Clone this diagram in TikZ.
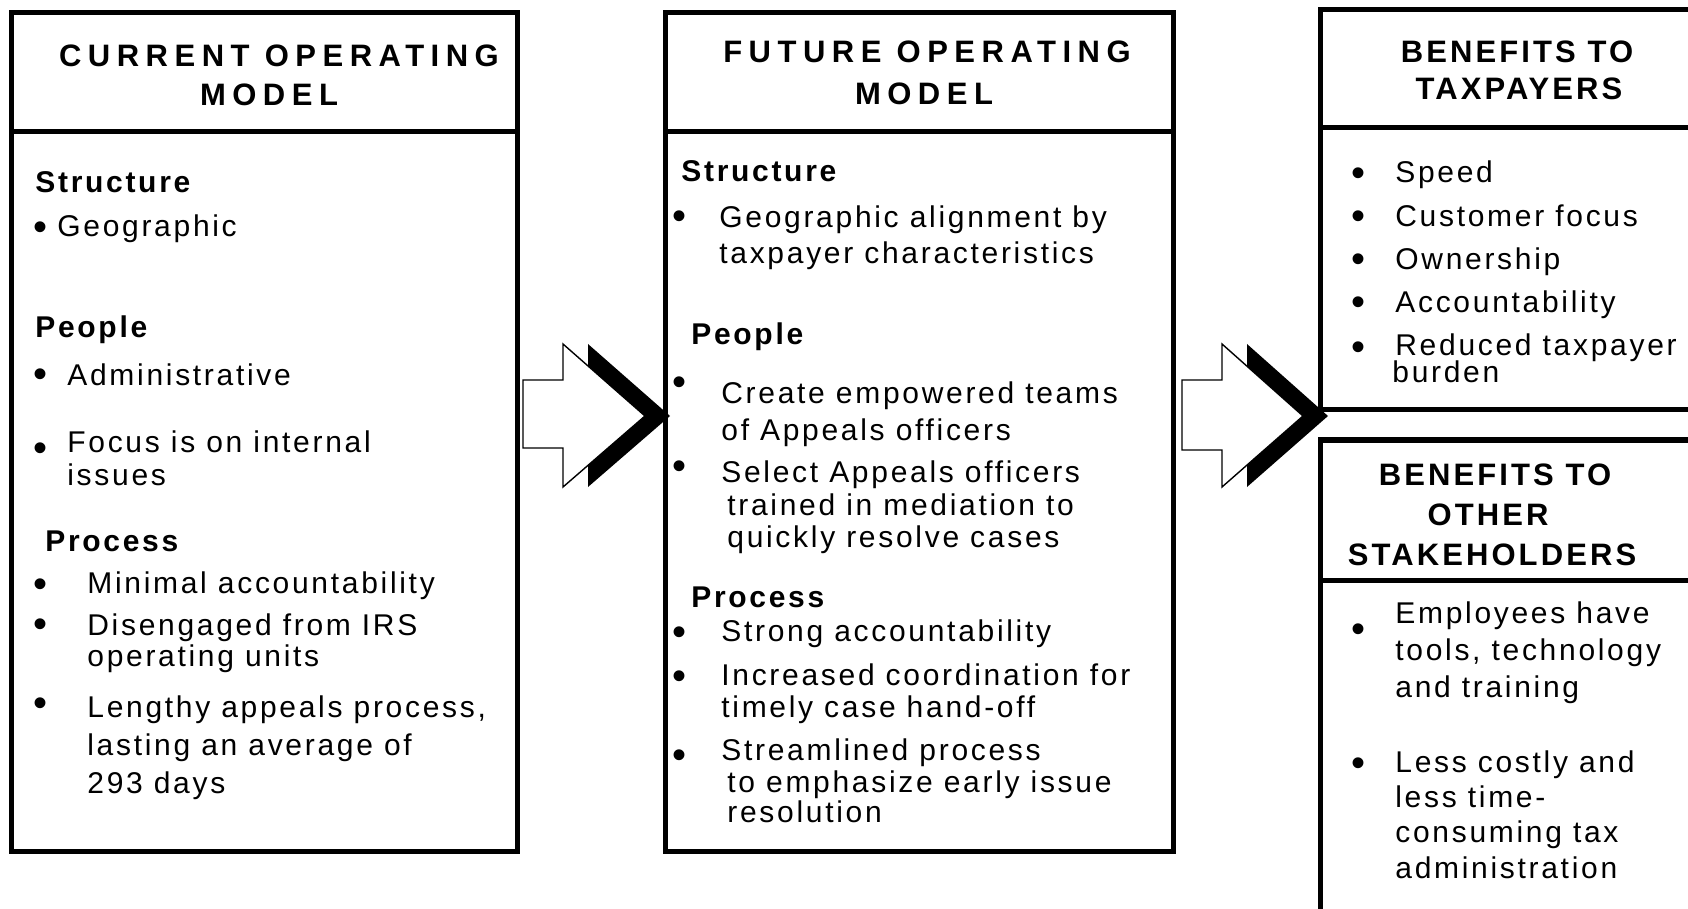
\documentclass[tikz,border=0pt]{standalone}
\usepackage{fontspec}
\setmainfont{Liberation Sans}[LetterSpace=9]
\newfontfamily\hdrfont{Liberation Sans}[LetterSpace=21]
\newfontfamily\hdrfontr{Liberation Sans}[LetterSpace=10]

\begin{document}
\begin{tikzpicture}[x=0.5pt,y=-0.5pt,
  boxline/.style={line width=2.5pt},
  hdr/.style={anchor=base,inner sep=0pt,font=\hdrfont\bfseries\fontsize{15.5}{18}\selectfont},
  hdrr/.style={anchor=base,inner sep=0pt,font=\hdrfontr\bfseries\fontsize{15.5}{18}\selectfont},
  sec/.style={anchor=base west,inner sep=0pt,font=\bfseries\fontsize{15}{17}\selectfont},
  txt/.style={anchor=base west,inner sep=0pt,font=\fontsize{15}{17}\selectfont},
  bul/.style={anchor=base west,inner sep=0pt,font=\fontsize{20}{20}\selectfont},
  blockarrow/.style={draw,fill=white,line width=0.7pt,line join=miter}]
\useasboundingbox (0,0) rectangle (1688,909);
\clip (0,0) rectangle (1688,909);
% block arrows with black shadow
\fill (588,344) -- (670,416) -- (588,487) -- cycle;
\draw[blockarrow] (523,380) -- (563,380) -- (563,344) -- (645,416) -- (563,487) -- (563,448) -- (523,448) -- cycle;
\fill (1247,344) -- (1328,416) -- (1247,487) -- cycle;
\draw[blockarrow] (1182,380) -- (1222,380) -- (1222,344) -- (1303,416) -- (1222,487) -- (1222,450) -- (1182,450) -- cycle;
% boxes
\draw[boxline] (11,13) rectangle (517,851);
\draw[boxline] (11,132) -- (517,132);
\draw[boxline] (665,13) rectangle (1173,851);
\draw[boxline] (665,132) -- (1173,132);
\draw[boxline] (1700,10) -- (1320,10) -- (1320,410) -- (1700,410);
\draw[boxline] (1320,128) -- (1700,128);
\draw[boxline] (1700,440) -- (1320,440) -- (1320,920);
\draw[boxline] (1320,580) -- (1700,580);
% current operating model
\node[hdr] (curh1) at (279,67) {CURRENT OPERATING};
\node[hdr] (curh2) at (269,106) {MODEL};
\node[sec] (curs) at (35,193) {Structure};
\node[bul] (curb1) at (33,241) {\textbullet};
\node[txt] (curt1) at (57,237) {Geographic};
\node[sec] (curp) at (35,338) {People};
\node[bul] (curb2) at (33,387) {\textbullet};
\node[txt] (curt2) at (67,386) {Administrative};
\node[bul] (curb3) at (33,461) {\textbullet};
\node[txt] (curt3) at (67,452) {Focus is on internal};
\node[txt] (curt3b) at (67,486) {issues};
\node[sec] (curq) at (45,551) {Process};
\node[bul] (curb4) at (33,597) {\textbullet};
\node[txt] (curt4) at (87,593) {Minimal accountability};
\node[bul] (curb5) at (33,637) {\textbullet};
\node[txt] (curt5) at (87,635) {Disengaged from IRS};
\node[txt] (curt5b) at (87,666) {operating units};
\node[bul] (curb6) at (33,716) {\textbullet};
\node[txt] (curt6) at (87,717) {Lengthy appeals process,};
\node[txt] (curt6b) at (87,755) {lasting an average of};
\node[txt] (curt6c) at (87,793) {293 days};
% future operating model
\node[hdr] (futh1) at (927,63) {FUTURE OPERATING};
\node[hdr] (futh2) at (924,105) {MODEL};
\node[sec] (futs) at (681,182) {Structure};
\node[bul] (futb1) at (672,230) {\textbullet};
\node[txt] (futt1) at (719,228) {Geographic alignment by};
\node[txt] (futt1b) at (719,264) {taxpayer characteristics};
\node[sec] (futp) at (691,345) {People};
\node[bul] (futb2) at (672,396) {\textbullet};
\node[txt] (futt2) at (721,404) {Create empowered teams};
\node[txt] (futt2b) at (721,440) {of Appeals officers};
\node[bul] (futb3) at (672,480) {\textbullet};
\node[txt] (futt3) at (721,482) {Select Appeals officers};
\node[txt] (futt3b) at (727,515) {trained in mediation to};
\node[txt] (futt3c) at (727,547) {quickly resolve cases};
\node[sec] (futq) at (691,607) {Process};
\node[bul] (futb4) at (672,645) {\textbullet};
\node[txt] (futt4) at (721,641) {Strong accountability};
\node[bul] (futb5) at (672,689) {\textbullet};
\node[txt] (futt5) at (721,685) {Increased coordination for};
\node[txt] (futt5b) at (721,717) {timely case hand-off};
\node[bul] (futb6) at (672,768) {\textbullet};
\node[txt] (futt6) at (721,760) {Streamlined process};
\node[txt] (futt6b) at (727,792) {to emphasize early issue};
\node[txt] (futt6c) at (727,822) {resolution};
% benefits to taxpayers
\node[hdrr] (taxh1) at (1517,63) {BENEFITS TO};
\node[hdrr] (taxh2) at (1519,100) {TAXPAYERS};
\node[bul] (taxb1) at (1351,187) {\textbullet};
\node[txt] (taxt1) at (1395,183) {Speed};
\node[bul] (taxb2) at (1351,230) {\textbullet};
\node[txt] (taxt2) at (1395,227) {Customer focus};
\node[bul] (taxb3) at (1351,273) {\textbullet};
\node[txt] (taxt3) at (1395,270) {Ownership};
\node[bul] (taxb4) at (1351,316) {\textbullet};
\node[txt] (taxt4) at (1395,313) {Accountability};
\node[bul] (taxb5) at (1351,361) {\textbullet};
\node[txt] (taxt5) at (1395,356) {Reduced taxpayer};
\node[txt] (taxt5b) at (1392,383) {burden};
% benefits to other stakeholders
\node[hdrr] (oth1) at (1495,485) {BENEFITS TO};
\node[hdrr] (oth2) at (1488,525) {OTHER};
\node[hdrr] (oth3) at (1492,565) {STAKEHOLDERS};
\node[bul] (otb1) at (1351,642) {\textbullet};
\node[txt] (ott1) at (1395,623) {Employees have};
\node[txt] (ott1b) at (1395,660) {tools, technology};
\node[txt] (ott1c) at (1395,697) {and training};
\node[bul] (otb2) at (1351,776) {\textbullet};
\node[txt] (ott2) at (1395,772) {Less costly and};
\node[txt] (ott2b) at (1395,807) {less time-};
\node[txt] (ott2c) at (1395,842) {consuming tax};
\node[txt] (ott2d) at (1395,878) {administration};
\end{tikzpicture}
\end{document}
